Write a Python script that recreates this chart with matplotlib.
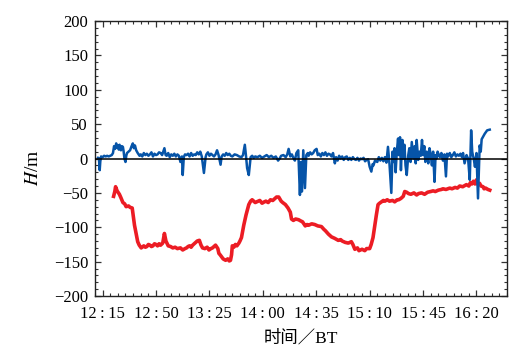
import matplotlib.pyplot as plt
from matplotlib.ticker import MultipleLocator

# time in minutes after 12:00, H in m
red_t = [22.2, 23.0, 23.5, 24.5, 26, 27, 28.3, 29.5, 30.4, 32, 33, 34.4, 35.2, 35.9, 37,
         38, 39, 40.3, 42, 43, 44, 45, 46, 47, 48, 49, 50, 51, 52, 53, 54.4, 55.5, 56.5,
         58, 59.5, 61, 62.5, 64, 66, 67.5, 69, 70, 71, 72, 73, 74, 75, 76, 77, 78.4, 79.5,
         80.5, 82, 83.5, 84.7, 86, 87, 88, 89, 90.5, 91.2, 92, 93, 94, 95.6, 97, 98, 98.8,
         99.5, 100, 101, 102, 103, 104.3, 105, 106, 107.5, 109, 110.8, 112, 113, 114, 115,
         116, 118, 119.5, 121, 122, 123.5, 125, 126.5, 128, 129, 130.4, 132, 133, 134.8,
         136.5, 138, 138.8, 140, 141.5, 143.4, 145, 146, 147.8, 149, 150, 152, 154, 156,
         158.4, 160, 161, 163, 165, 167, 169.4, 171, 172, 174, 176, 178, 179, 180.3, 182,
         183, 185, 186.8, 188, 190, 191, 192.2, 193.2, 194.4, 195.5, 196.5, 197.7, 199,
         200, 201.5, 203, 205, 206.4, 208, 209, 210.5, 212, 213, 214.2, 215.5, 217, 219,
         220.8, 222, 224, 226, 228, 230, 231.6, 233, 235, 237, 238, 240, 242.5, 244, 246,
         247.5, 249, 251, 253.4, 255, 256, 257, 258, 259, 260, 261, 262, 263, 264.3, 265,
         266, 267.5, 268.7]
red_h = [-55, -48, -41, -47, -52, -57, -64, -66, -70, -69, -71, -72, -85, -97, -110,
         -121, -126, -130, -127, -129, -128, -125, -126, -128, -127, -124, -125, -127, -124,
         -126, -123, -109, -120, -127, -128, -130, -129, -131, -130, -133, -131, -130, -128,
         -127, -129, -126, -124, -122, -120, -119, -126, -130, -131, -129, -133, -131, -130,
         -128, -126, -131, -138, -140, -143, -146, -148, -146, -149, -148, -140, -127, -129,
         -125, -127, -123, -120, -115, -97, -82, -67, -62, -60, -62, -64, -63, -61, -65, -63,
         -62, -64, -60, -61, -58, -56, -56, -62, -64, -67, -72, -78, -88, -90, -88, -89, -91,
         -92, -98, -96, -97, -95, -96, -98, -99, -103, -105, -110, -114, -116, -119, -118,
         -120, -122, -123, -121, -125, -132, -130, -134, -132, -134, -131, -131, -125, -115,
         -100, -82, -67, -65, -63, -61, -62, -60, -62, -61, -63, -60, -60, -58, -55, -48, -49,
         -51, -52, -50, -53, -51, -50, -52, -49, -48, -47, -48, -46, -45, -44, -45, -43, -44,
         -42, -43, -40, -41, -38, -40, -35, -37, -33, -37, -31, -38, -36, -40, -41, -44, -43,
         -45, -46]

# (time, H) readings for the blue series
blue_pts = [
    (12.0, 1), (12.6, 0), (13.1, -17), (13.5, -4), (14, 3), (15, 2), (16, 4), (17, 3),
    (18, 4), (19, 3), (20, 4), (21, 5), (21.8, 8), (22.5, 18), (23.2, 14), (23.9, 22),
    (24.5, 16), (25, 19), (25.6, 13), (26.1, 20), (26.6, 15), (27, 12), (27.6, 18),
    (28.3, 17), (28.8, 10), (29.3, 0), (30, -5), (30.5, 4), (31, 8), (32, 10), (33, 12),
    (34, 18), (34.8, 22), (35.5, 15), (36.2, 19), (37, 12), (38, 8), (39.2, 4), (40, 6),
    (41, 3), (42, 8), (43, 5), (44, 7), (45, 4), (46, 6), (47, 9), (48, 3), (49, 7),
    (50, 5), (51, 6), (52, 9), (53, 8), (54, 5), (55.5, 15), (56.3, 5), (57, 4), (58, 8),
    (59, 2), (60, 6), (61, 4), (62, 7), (63, 3), (64, 6), (65, 4), (66, -5), (67, 3),
    (67.5, -24), (68.2, 2), (69, 6), (70, 5), (71, 7), (72, 3), (73, 8), (74, 4), (75, 6),
    (76, 5), (77, 9), (78, 6), (79, 10), (80, 3), (81.4, -21), (82.5, 2), (83, 6), (84, 9),
    (85, 4), (86, 7), (87, 5), (88, 3), (89, 6), (90, 12), (91, 5), (92.3, -9), (93, 3),
    (94, 6), (95, 4), (96, 8), (97, 5), (98, 7), (99, 4), (100, 3), (101.5, 6), (103, 5),
    (104.5, 3), (106, 2), (107, 5), (108.2, 20), (109, 3), (109.7, -14), (110.8, -24),
    (112, 2), (113, 4), (114, 1), (115, 3), (116.5, 2), (118, 4), (119.5, 1), (121, 3),
    (122.5, 5), (124, 2), (125.5, 4), (127, 1), (128.5, 3), (130, -3), (131, 0), (132, 4),
    (133.5, 5), (135, 2), (136, 6), (136.9, 14), (138, 3), (139, 6), (140, 1), (141, -3),
    (142, 8), (143.2, 12), (144.3, -53), (145, -5), (145.6, -48), (146.5, 12),
    (147.6, -43), (148.5, 5), (149.5, 8), (150, 4), (151, 9), (152, 6), (153, 8),
    (154, 12), (155.2, 14), (156, 5), (157, 7), (158, 3), (159, 8), (160, 5), (161, 9),
    (162, 4), (163, 7), (164, 6), (165, 3), (166, 8), (167.2, -7), (168, 2), (169, -3),
    (170, 4), (171, 0), (172, 3), (173, -2), (174, 2), (175, 3), (176, -2), (177, 1),
    (178, -2), (179, 2), (180, -1), (181, -2), (182, 1), (183, -3), (184, 0), (185, -1),
    (186, 1), (187, -4), (188, -2), (189, -1), (190, -12), (191.1, -19), (192, -8),
    (192.5, -10), (193.5, -3), (195, -5), (196, 2), (197, -3), (198, 1), (199, -4),
    (200, 2), (201, -6), (202, 17), (203, -8), (204.2, -50), (205, 10), (205.5, -5),
    (206.3, 15), (207, -20), (207.8, 10), (208.6, 29), (209.2, 5), (209.9, 31),
    (210.5, -17), (211, 12), (211.5, 27), (212, 0), (212.8, 20), (213.5, -10),
    (214.3, -24), (215.3, 5), (216, 15), (216.8, -5), (217.6, 24), (218.6, 0),
    (219.5, 18), (220.2, -7), (220.8, 27), (221.8, -2), (222.7, 10), (223.5, 4),
    (224.3, 27), (225, 5), (225.8, 18), (226.5, -5), (227.4, 10), (228.4, -7),
    (229.2, 15), (230, 6), (230.8, -10), (231.6, 10), (232.5, -34), (233.2, 5),
    (233.8, 0), (234.5, 10), (235.2, 6), (236, 2), (237, 8), (238, -3), (239, 6),
    (240, -26), (240.7, 7), (241.4, 3), (242.5, 8), (243.5, 2), (244.5, 5), (245.5, 9),
    (246.5, 3), (247.5, 6), (248.5, 4), (249.5, 7), (250.5, 2), (251.2, 8), (252.2, -7),
    (253.5, 5), (254.5, 0), (255.6, -31), (256.5, 41), (257.2, 10), (257.7, 4),
    (258.2, 0), (259, -12), (260, 8), (261, -58), (262.1, 19), (262.8, 10), (263.4, 28),
    (263.9, 30), (265.4, 36), (267, 41), (268.7, 42),
]
blue_t = [p[0] for p in blue_pts]
blue_h = [p[1] for p in blue_pts]

x_ticks = [15, 50, 85, 120, 155, 190, 225, 260]
x_labels = ["12\u2009:\u200915", "12\u2009:\u200950", "13\u2009:\u200925",
            "14\u2009:\u200900", "14\u2009:\u200935", "15\u2009:\u200910",
            "15\u2009:\u200945", "16\u2009:\u200920"]

plt.rcParams['font.family'] = ['Liberation Serif', 'DejaVu Serif', 'Noto Sans CJK SC']
plt.rcParams['mathtext.fontset'] = 'stix'

fig = plt.figure(figsize=(5.23, 3.52), dpi=100)
ax = fig.add_axes([0.1816, 0.159, 0.7878, 0.7813])

ax.plot(red_t, red_h, color='#ec1c24', lw=2.6)
ax.plot(blue_t, blue_h, color='#0654a8', lw=1.8)
ax.axhline(0, color='black', lw=1.1, zorder=5)

ax.set_xlim(10, 280)
ax.set_ylim(-200, 200)
ax.set_xticks(x_ticks)
ax.set_xticklabels(x_labels)
ax.xaxis.set_minor_locator(MultipleLocator(5))
ax.yaxis.set_major_locator(MultipleLocator(50))
ax.yaxis.set_minor_locator(MultipleLocator(10))

ax.tick_params(which='both', direction='in', top=True, right=True,
               labelsize=12, color='#333333')
ax.tick_params(axis='x', pad=7)
ax.tick_params(axis='y', pad=5)
ax.tick_params(which='major', length=4, width=0.9)
ax.tick_params(which='minor', length=2.2, width=0.8)
for s in ax.spines.values():
    s.set_linewidth(1.0)
    s.set_color('#222222')

ax.set_ylabel('$H$/m', fontsize=14)
ax.yaxis.set_label_coords(-0.128, 0.465)
ax.set_xlabel('时间／BT', fontsize=12.5, labelpad=6)

fig.savefig('out.png', dpi=100)
